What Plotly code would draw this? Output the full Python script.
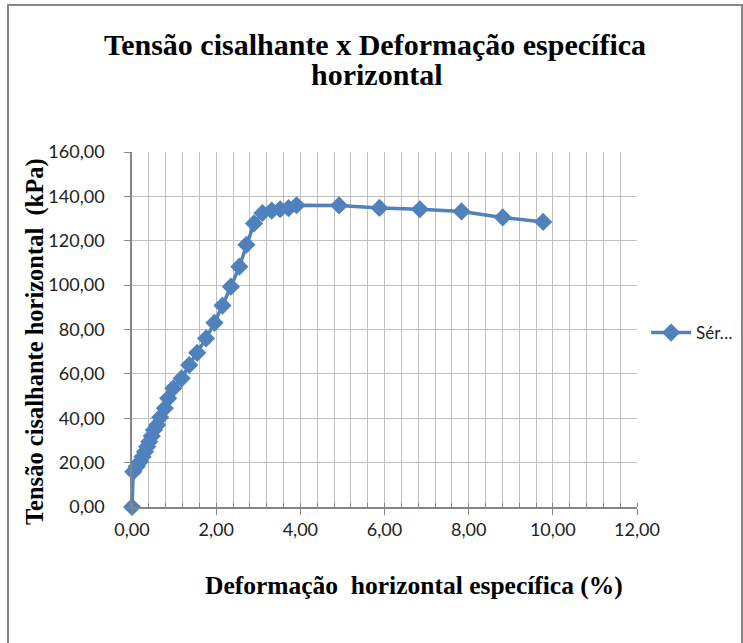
import plotly.graph_objects as go

deformacao = [0, 0.03, 0.11, 0.19, 0.25, 0.31, 0.36, 0.41, 0.47, 0.52, 0.60, 0.67, 0.78, 0.86,
              0.98, 1.18, 1.36, 1.55, 1.76, 1.96, 2.15, 2.35, 2.55, 2.72, 2.90, 3.10, 3.32,
              3.52, 3.72, 3.91, 4.92, 5.88, 6.84, 7.83, 8.81, 9.77]
tensao = [0, 15.9, 18.2, 20.4, 22.7, 24.9, 27.2, 29.4, 32.0, 34.7, 37.0, 40.4, 44.5, 49.0,
          53.5, 58.0, 64.0, 69.5, 76.0, 83.0, 90.8, 99.3, 108.3, 118.2, 127.8, 132.5, 133.6,
          134.2, 134.7, 136.0, 135.9, 134.8, 134.2, 133.2, 130.5, 128.5]
serie_nome = "Sér…"
titulo_l1 = "Tensão cisalhante x Deformação específica"
titulo_l2 = "horizontal"
titulo_x = "Deformação  horizontal específica (%)"
titulo_y = "Tensão cisalhante horizontal  (kPa)"

blue = "#4F81BD"
serif = "Liberation Serif"
sans = "Lato, Open Sans, sans-serif"

fig = go.Figure()
fig.add_trace(go.Scatter(
    x=deformacao, y=tensao, mode="lines+markers", name=serie_nome,
    line=dict(color=blue, width=3.5),
    marker=dict(symbol="diamond", size=14, color=blue),
    cliponaxis=False,
))

tick_font = dict(family=sans, size=18, color="#222")
fig.update_layout(
    width=743, height=643,
    margin=dict(l=132, r=106, t=152, b=136, autoexpand=False),
    paper_bgcolor="white", plot_bgcolor="white",
    separators=",.",
    title=dict(text="<b>" + titulo_l1 + "</b>", x=375 / 743, xanchor="center",
               y=1 - 44 / 643, yanchor="middle",
               font=dict(family=serif, size=30, color="black")),
    showlegend=True,
    legend=dict(x=1.018, y=0.49, xanchor="left", yanchor="middle",
                font=dict(family=sans, size=17, color="#222"),
                bgcolor="rgba(0,0,0,0)", itemwidth=40),
    xaxis=dict(range=[0, 12], dtick=2, tickformat=".2f", showgrid=True,
               gridcolor="#c0c0c0", gridwidth=1,
               minor=dict(dtick=0.4, showgrid=True, gridcolor="#c0c0c0", gridwidth=1,
                          ticks="inside", ticklen=4, tickcolor="#868686"),
               showline=True, linecolor="#868686", linewidth=1.5,
               ticks="outside", ticklen=6, tickcolor="#868686",
               tickfont=tick_font, zeroline=False),
    yaxis=dict(range=[0, 160], dtick=20, tickformat=".2f", showgrid=True,
               gridcolor="#c0c0c0", gridwidth=1,
               showline=True, linecolor="#868686", linewidth=1.5,
               ticks="outside", ticklen=6, tickcolor="#868686",
               ticklabelstandoff=16,
               tickfont=tick_font, zeroline=False),
    annotations=[
        dict(text="<b>" + titulo_l2 + "</b>", xref="paper", yref="paper",
             x=(377 - 132) / 505, y=(507 - 74) / 355, xanchor="center", yanchor="middle",
             showarrow=False, font=dict(family=serif, size=30, color="black")),
        dict(text="<b>" + titulo_x + "</b>", xref="paper", yref="paper",
             x=(414 - 132) / 505, y=(507 - 585) / 355, xanchor="center", yanchor="middle",
             showarrow=False, font=dict(family=serif, size=25.5, color="black")),
        dict(text="<b>" + titulo_y + "</b>", xref="paper", yref="paper",
             x=(35 - 132) / 505, y=(507 - 342) / 355, xanchor="center", yanchor="middle",
             textangle=-90, showarrow=False,
             font=dict(family=serif, size=24.5, color="black")),
    ],
    shapes=[dict(type="rect", xref="paper", yref="paper",
                 x0=(8 - 132) / 505, x1=(742 - 132) / 505,
                 y0=(507 - 660) / 355, y1=(507 - 5) / 355,
                 line=dict(color="#868686", width=2), layer="below")],
)
fig.write_html("out.html", config={"displayModeBar": False},
               post_script="document.body.style.margin='0';"
                           "document.body.style.overflow='hidden';"
                           "document.documentElement.style.overflow='hidden';")
